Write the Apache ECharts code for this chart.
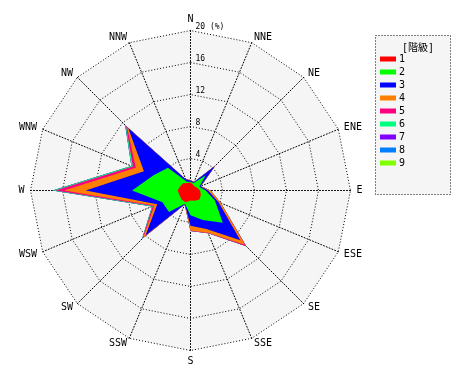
<!DOCTYPE html>
<html><head><meta charset="utf-8">
<script src="https://cdn.jsdelivr.net/npm/echarts@6/dist/echarts.min.js"></script>
<style>html,body{margin:0;padding:0;background:#fff}#c{width:470px;height:380px}</style>
</head><body><div id="c"></div>
<script>
const directions = ['N','NNE','NE','ENE','E','ESE','SE','SSE','S','SSW','SW','WSW','W','WNW','NW','NNW'];
const classNames = ['1','2','3','4','5','6','7','8','9'];
const classColors = ['#ff0000','#00ff00','#0000ff','#ff8000','#ff0080','#00ff80','#8000ff','#0080ff','#80ff00'];
const radiusTicks = ['4','8','12','16','20 (%)'];
// frequency (%) of each class per direction, order as directions
const class1 = [1.0,0.8,0.7,0.9,1.2,1.4,1.6,1.4,1.25,1.6,1.6,1.5,1.6,1.4,1.3,1.0];
const class2 = [0.1,0.2,1.95,0.3,0.7,1.9,4.1,2.6,1.85,0.2,2.2,2.3,5.7,3.6,2.7,0.2];
const class3 = [0.15,0.1,1.65,0.15,0.3,0.5,3.1,1.2,1.3,0.05,4.15,0.7,5.8,1.3,7.0,0.3];
const class4 = [0.05,0.05,0.05,0.05,0.3,0.3,0.8,0.5,0.6,0.05,0.4,0.4,2.7,1.1,0.2,0.0];
const class5 = [0.0,0.0,0.05,0.0,0.0,0.0,0.25,0.1,0.05,0.0,0.15,0.2,1.1,0.4,0.2,0.0];
const class6 = [0.0,0.0,0.0,0.0,0.0,0.0,0.0,0.0,0.0,0.0,0.05,0.1,0.3,0.2,0.1,0.0];
const class7 = [0.0,0.0,0.0,0.0,0.0,0.0,0.0,0.0,0.0,0.0,0.0,0.0,0.02,0.0,0.02,0.0];
const class8 = [0.0,0.0,0.0,0.0,0.0,0.0,0.0,0.0,0.0,0.0,0.0,0.0,0.05,0.0,0.05,0.0];
const class9 = [0.0,0.0,0.0,0.0,0.0,0.0,0.0,0.0,0.0,0.0,0.0,0.0,0.02,0.0,0.0,0.0];
const classes = [class1,class2,class3,class4,class5,class6,class7,class8,class9];

// ECharts radar places indicators counter-clockwise; reorder so they run clockwise
const order = [0].concat(directions.map((d,i)=>i).slice(1).reverse());
let cum = new Array(directions.length).fill(0);
const stacked = classes.map(arr => { cum = cum.map((v,i)=>v+arr[i]); return cum.slice(); });
const radarData = [];
for (let k = classes.length-1; k >= 0; k--) {
  radarData.push({
    name: classNames[k],
    value: order.map(i=>stacked[k][i]),
    itemStyle:{color:classColors[k]},
    lineStyle:{width:0,color:classColors[k]},
    areaStyle:{color:classColors[k],opacity:1}
  });
}
const mono = 'DejaVu Sans Mono, Noto Sans CJK JP';
const dot = {type:[1,2], color:'#000', width:1};
const chart = echarts.init(document.getElementById('c'), null, {renderer:'canvas'});
chart.setOption({
  animation:false,
  backgroundColor:'#fff',
  title:{text:'[階級]', left:413, top:38, textAlign:'center',
    textStyle:{fontSize:10, fontWeight:'normal', color:'#000', fontFamily:mono}},
  graphic:[{type:'rect', shape:{x:375.5,y:35.5,width:75,height:159}, z:-1,
    style:{fill:'#f5f5f5', stroke:'#000', lineWidth:1, lineDash:[1,2]}}],
  legend:{data:classNames, orient:'vertical', left:380, top:54, icon:'rect',
    itemWidth:16, itemHeight:5, itemGap:3, padding:0,
    textStyle:{fontSize:10, color:'#000', fontFamily:mono, padding:[0,0,0,-2]}},
  radar:{
    center:[190.5,190.5], radius:160, startAngle:90, shape:'polygon', splitNumber:5,
    indicator: order.map(i=>({name:directions[i], min:0, max:20})),
    axisName:{color:'#000', fontSize:10, fontFamily:mono},
    nameGap:6,
    splitLine:{lineStyle:dot},
    axisLine:{lineStyle:dot},
    splitArea:{show:true, areaStyle:{color:['#f5f5f5']}}
  },
  polar:{center:[190.5,190.5], radius:160},
  angleAxis:{type:'value', startAngle:90, show:false, min:0, max:360},
  radiusAxis:{min:0, max:20, interval:4, z:20,
    axisLine:{show:false}, axisTick:{show:false}, splitLine:{show:false},
    axisLabel:{showMinLabel:false, margin:-5, align:'left', verticalAlign:'bottom',
      fontSize:8, color:'#000', fontFamily:mono,
      formatter:(v)=>radiusTicks[v/4-1]}},
  series:[{type:'radar', symbol:'none', silent:true, data:radarData}]
});
</script></body></html>
